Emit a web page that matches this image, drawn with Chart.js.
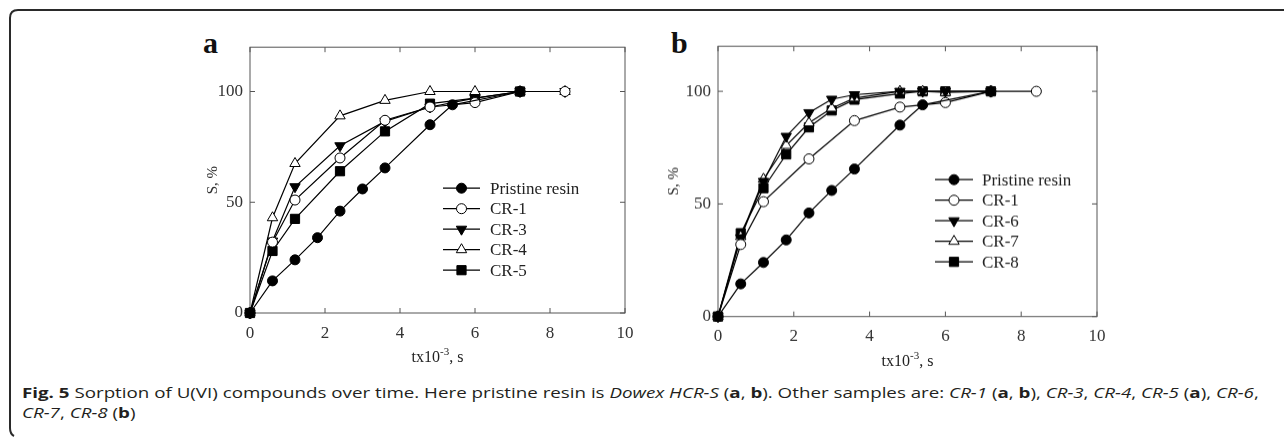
<!DOCTYPE html>
<html>
<head>
<meta charset="utf-8">
<script src="https://cdn.jsdelivr.net/npm/chart.js@4.4.1/dist/chart.umd.min.js"></script>
<style>
  body { margin: 0; width: 1284px; height: 438px; background: #fff; position: relative; overflow: hidden; }
  .panel { position: absolute; }
  .tag { position: absolute; font: bold 30px "Liberation Serif"; color: #111; line-height: 30px; }
  .caption { position: absolute; left: 22px; top: 382px; font: 15px "Open Sans"; line-height: 20px; color: #231f20; white-space: nowrap; transform: scaleX(1.25); transform-origin: 0 0; }
  .caption i { font-style: italic; }
  svg.frame { position: absolute; left: 0; top: 0; }
</style>
</head>
<body>
<svg class="frame" width="1284" height="438">
  <path d="M1284 10 H18 Q10 10 10 18 V428 Q10 434 14 436" fill="none" stroke="#2a2a2a" stroke-width="2"/>
</svg>

<div class="tag" style="left:203px;top:28px;">a</div>
<div class="tag" style="left:671px;top:28px;">b</div>

<div class="panel" style="left:180px;top:30px;width:470px;height:345px;"><canvas id="chartA"></canvas></div>
<div class="panel" style="left:647.7px;top:29px;width:474px;height:348.7px;"><canvas id="chartB"></canvas></div>

<div class="caption"><b>Fig. 5</b> Sorption of U(VI) compounds over time. Here pristine resin is <i>Dowex HCR-S</i> (<b>a</b>, <b>b</b>). Other samples are: <i>CR-1</i> (<b>a</b>, <b>b</b>), <i>CR-3</i>, <i>CR-4</i>, <i>CR-5</i> (<b>a</b>), <i>CR-6</i>,<br><i>CR-7</i>, <i>CR-8</i> (<b>b</b>)</div>

<script>
// time points, x10^-3 s
const TIME = [0, 0.6, 1.2, 1.8, 2.4, 3.0, 3.6, 4.8, 5.4, 6.0, 7.2, 8.4];
const X_TICKS = [0, 2, 4, 6, 8, 10];
const Y_TICKS = [0, 50, 100];

// sorption S, % (null = no measurement at that time)
const pristine = [0, 14.5, 24, 34, 46, 56, 65.5, 85, 94, null, 100, null];
const cr1 = [0, 32, 51, null, 70, null, 87, 93, null, 95, 100, 100];
const cr3 = [0, 32.5, 57, null, 75.5, null, 86.5, 93, null, 97, 100, 100];
const cr4 = [0, 43, 67.5, null, 89, null, 96, 100, null, 100, 100, 100];
const cr5 = [0, 28, 42.5, null, 64, null, 82, 94.5, null, 97, 100, null];
const cr6 = [0, 35, 60, 80, 90.5, 96.5, 98.5, 100, 100, 100, 100, null];
const cr7 = [0, 35.5, 61, 76, 86, 92.5, 97, 100, 100, 99.5, 100, null];
const cr8 = [0, 37, 57, 72, 84, 91.5, 96.3, 99, 100, 100, 100, null];

const SERIF = '"Liberation Serif", "Times New Roman", serif';

const markers = {
    filledCircle: { pointStyle: 'circle', pointRadius: 5, pointBackgroundColor: '#000', pointRotation: 0 },
    openCircle: { pointStyle: 'circle', pointRadius: 5, pointBackgroundColor: '#fff', pointRotation: 0 },
    filledDown: { pointStyle: 'triangle', pointRadius: 6, pointBackgroundColor: '#000', pointRotation: 180 },
    openUp: { pointStyle: 'triangle', pointRadius: 6, pointBackgroundColor: '#fff', pointRotation: 0 },
    filledSquare: { pointStyle: 'rect', pointRadius: 6.5, pointBackgroundColor: '#000', pointRotation: 0 }
};

function series(label, values, marker) {
    return Object.assign({
        label: label,
        data: TIME.map((t, i) => ({ x: t, y: values[i] })).filter(p => p.y !== null),
        borderColor: '#000',
        borderWidth: 1.2,
        pointBorderColor: '#000',
        pointBorderWidth: 1,
        clip: false,
        showLine: true
    }, markers[marker]);
}

// frame with inward ticks on all four sides
const framePlugin = {
    id: 'frame',
    beforeDatasetsDraw(chart) {
        const { ctx, chartArea: a, scales: { x, y } } = chart;
        ctx.save();
        ctx.strokeStyle = '#555';
        ctx.lineWidth = 1;
        ctx.strokeRect(a.left, a.top, a.right - a.left, a.bottom - a.top);
        ctx.beginPath();
        x.ticks.forEach(t => {
            const px = x.getPixelForValue(t.value);
            ctx.moveTo(px, a.bottom); ctx.lineTo(px, a.bottom - 5);
            ctx.moveTo(px, a.top); ctx.lineTo(px, a.top + 5);
        });
        y.ticks.forEach(t => {
            const py = y.getPixelForValue(t.value);
            ctx.moveTo(a.left, py); ctx.lineTo(a.left + 5, py);
            ctx.moveTo(a.right, py); ctx.lineTo(a.right - 5, py);
        });
        ctx.stroke();
        ctx.restore();
    }
};

// x axis title with a raised exponent
const xTitlePlugin = {
    id: 'xTitle',
    afterDraw(chart, args, opts) {
        const { ctx, chartArea: a } = chart;
        ctx.save();
        ctx.fillStyle = '#222';
        ctx.textBaseline = 'alphabetic';
        const big = '16px ' + SERIF, small = '11px ' + SERIF;
        ctx.font = big;
        const w1 = ctx.measureText('tx10').width, w3 = ctx.measureText(', s').width;
        ctx.font = small;
        const w2 = ctx.measureText('-3').width;
        let x = (a.left + a.right) / 2 - (w1 + w2 + w3) / 2;
        const y = a.bottom + opts.offset;
        ctx.textAlign = 'left';
        ctx.font = big; ctx.fillText('tx10', x, y); x += w1;
        ctx.font = small; ctx.fillText('-3', x, y - 7); x += w2;
        ctx.font = big; ctx.fillText(', s', x, y);
        ctx.restore();
    }
};

// legend drawn inside the plot
const insideLegend = {
    id: 'insideLegend',
    afterDatasetsDraw(chart, args, opts) {
        const { ctx, chartArea: a } = chart;
        ctx.save();
        chart.data.datasets.forEach((ds, i) => {
            const y = a.top + opts.top + i * opts.rowGap;
            const x0 = a.left + opts.left;
            ctx.strokeStyle = '#000';
            ctx.lineWidth = 1.2;
            ctx.beginPath();
            ctx.moveTo(x0, y);
            ctx.lineTo(x0 + opts.lineLen, y);
            ctx.stroke();
            ctx.fillStyle = ds.pointBackgroundColor;
            ctx.strokeStyle = '#000';
            ctx.lineWidth = 1;
            Chart.helpers.drawPoint(ctx, {
                pointStyle: ds.pointStyle,
                rotation: ds.pointRotation,
                radius: ds.pointRadius,
                borderWidth: 1
            }, x0 + opts.lineLen / 2, y);
            ctx.fillStyle = '#222';
            ctx.font = '17px ' + SERIF;
            ctx.textBaseline = 'middle';
            ctx.textAlign = 'left';
            ctx.fillText(ds.label, x0 + opts.lineLen + opts.gap, y + 1);
        });
        ctx.restore();
    }
};

function createPanel(id, datasets, yTitlePad, legendPos) {
    return new Chart(document.getElementById(id), {
        type: 'scatter',
        data: { datasets: datasets },
        plugins: [framePlugin, xTitlePlugin, insideLegend],
        options: {
            responsive: true,
            maintainAspectRatio: false,
            animation: false,
            layout: { padding: { left: 0, right: 25, top: 15, bottom: 0 } },
            plugins: {
                legend: { display: false },
                tooltip: { enabled: false },
                xTitle: { offset: 49 },
                insideLegend: legendPos
            },
            scales: {
                x: {
                    type: 'linear',
                    min: 0,
                    max: 10,
                    afterBuildTicks: s => { s.ticks = X_TICKS.map(v => ({ value: v })); },
                    afterFit: s => { s.height = 62; },
                    grid: { display: false, drawTicks: false },
                    border: { display: false },
                    ticks: { color: '#333', font: { family: SERIF, size: 17 }, padding: 10, maxRotation: 0 }
                },
                y: {
                    type: 'linear',
                    min: 0,
                    max: 120,
                    afterBuildTicks: s => { s.ticks = Y_TICKS.map(v => ({ value: v })); },
                    afterFit: s => { s.width = 70; },
                    grid: { display: false, drawTicks: false },
                    border: { display: false },
                    ticks: { color: '#333', font: { family: SERIF, size: 17 }, padding: 7 },
                    title: {
                        display: true,
                        text: 'S, %',
                        color: '#333',
                        font: { family: SERIF, size: 15 },
                        padding: { top: yTitlePad, bottom: 0 }
                    }
                }
            }
        }
    });
}

createPanel('chartA', [
    series('Pristine resin', pristine, 'filledCircle'),
    series('CR-1', cr1, 'openCircle'),
    series('CR-3', cr3, 'filledDown'),
    series('CR-4', cr4, 'openUp'),
    series('CR-5', cr5, 'filledSquare')
], 24, { left: 193, top: 141, rowGap: 20.5, lineLen: 37, gap: 10 });

createPanel('chartB', [
    series('Pristine resin', pristine, 'filledCircle'),
    series('CR-1', cr1, 'openCircle'),
    series('CR-6', cr6, 'filledDown'),
    series('CR-7', cr7, 'openUp'),
    series('CR-8', cr8, 'filledSquare')
], 17, { left: 217, top: 133, rowGap: 20.5, lineLen: 38, gap: 9 });
</script>
</body>
</html>
